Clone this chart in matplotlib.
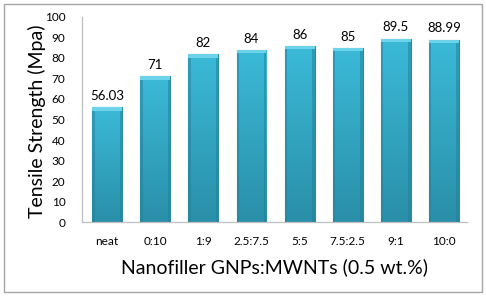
import matplotlib.pyplot as plt
import matplotlib.patches as mpatches
from matplotlib.colors import LinearSegmentedColormap
import numpy as np

plt.rcParams['font.family'] = ['Lato', 'DejaVu Sans']

# data
categories = ["neat", "0:10", "1:9", "2.5:7.5", "5:5", "7.5:2.5", "9:1", "10:0"]
strength = [56.03, 71, 82, 84, 86, 85, 89.5, 88.99]
value_labels = ["56.03", "71", "82", "84", "86", "85", "89.5", "88.99"]
yticks = list(range(0, 101, 10))

fig = plt.figure(figsize=(4.86, 2.98), dpi=100)
ax = fig.add_axes([0.169, 0.255, 0.792, 0.688])

x = np.arange(len(categories))
bars = ax.bar(x, strength, width=0.62, color='#36AECB', edgecolor='#2A8AA3', linewidth=0.8, zorder=2)

# vertical gradient inside each bar
grad = np.linspace(1, 0, 256).reshape(-1, 1)
cmap = LinearSegmentedColormap.from_list('bar', ['#2A8FA9', '#3BBAD8'])
for b in bars:
    x0, w, h = b.get_x(), b.get_width(), b.get_height()
    im = ax.imshow(grad, extent=(x0, x0 + w, 0, h), aspect='auto', cmap=cmap,
                   origin='upper', zorder=2.5)
    im.set_clip_path(b)
    # lighter top cap
    ax.add_patch(mpatches.Rectangle((x0, h - 1.8), w, 1.8, facecolor='#6CD3EA',
                                    edgecolor='none', zorder=2.6))
    # darker sides for a bevelled look
    ax.add_patch(mpatches.Rectangle((x0, 0), w * 0.08, h - 1.8, facecolor='#237F97', alpha=0.5,
                                    edgecolor='none', zorder=2.6))
    ax.add_patch(mpatches.Rectangle((x0 + w * 0.92, 0), w * 0.08, h - 1.8, facecolor='#237F97',
                                    alpha=0.5, edgecolor='none', zorder=2.6))

for xi, v, lab in zip(x, strength, value_labels):
    ax.text(xi, v + 2.5, lab, ha='center', va='bottom', fontsize=9.5, color='black')

ax.set_xlim(-0.52, 7.48)
ax.set_ylim(0, 100)
ax.set_yticks(yticks)
ax.set_xticks(x)
ax.set_xticklabels(categories)
ax.tick_params(axis='x', length=0, labelsize=8.5, pad=10)
ax.tick_params(axis='y', length=0, labelsize=8.5, pad=12)
for s in ['top', 'right']:
    ax.spines[s].set_visible(False)
for s in ['left', 'bottom']:
    ax.spines[s].set_color('#BFBFBF')
    ax.spines[s].set_linewidth(0.9)

ax.set_xlabel("Nanofiller GNPs:MWNTs (0.5 wt.%)", fontsize=14)
ax.set_ylabel("Tensile Strength (Mpa)", fontsize=14)
ax.xaxis.set_label_coords(0.5, -0.22)
ax.xaxis.label.set_va('center')
ax.yaxis.set_label_coords(-0.117, 0.49)
ax.yaxis.label.set_va('center')

# outer border
fig.patches.append(mpatches.Rectangle((0.008, 0.02), 0.984, 0.965, transform=fig.transFigure,
                                      fill=False, edgecolor='#A6A6A6', linewidth=1.0))

fig.savefig('out.png', dpi=100)
